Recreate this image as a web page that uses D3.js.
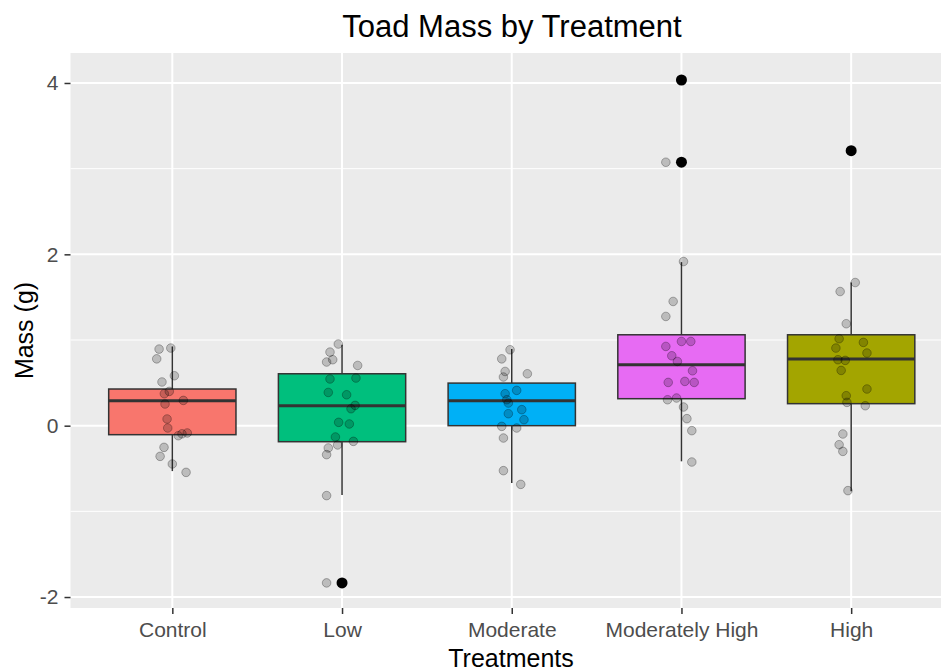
<!DOCTYPE html>
<html>
<head>
<meta charset="utf-8">
<script src="https://cdn.jsdelivr.net/npm/d3@7"></script>
<style>
    html, body { margin: 0; padding: 0; background: #ffffff; }
    svg { display: block; font-family: "Liberation Sans", Arial, sans-serif; }
</style>
</head>
<body>
<div id="chart"></div>
<script>
// Catégories et couleurs (ordre alphabétique des niveaux dans ggplot)
const treatments = ['Control', 'Low', 'Moderate', 'Moderately High', 'High'];
const fillColors = ['#F8766D', '#00BF7D', '#00B0F6', '#E76BF3', '#A3A500'];

// Statistiques des boîtes
const q1 = [-0.105, -0.187, 0.0, 0.315, 0.257];
const medians = [0.29, 0.233, 0.29, 0.711, 0.778];
const q3 = [0.428, 0.606, 0.497, 1.061, 1.061];
const whiskerLow = [-0.53, -0.81, -0.669, -0.416, -0.766];
const whiskerHigh = [0.925, 0.945, 0.894, 1.909, 1.671];
const outliers = [[], [-1.835], [], [3.075, 4.035], [3.21]];

// Points bruités (masse en g, décalage horizontal en unités de catégorie)
const controlMass = [0.906, 0.894, 0.78, 0.583, 0.51, 0.40, 0.373, 0.295, 0.253, 0.078, -0.027, -0.117, -0.095, -0.085, -0.253, -0.358, -0.447, -0.545];
const controlJitter = [-0.009, -0.078, -0.092, 0.012, -0.061, -0.018, -0.047, 0.065, -0.043, -0.031, -0.027, 0.035, 0.057, 0.088, -0.049, -0.072, 0, 0.081];
const lowMass = [0.953, 0.859, 0.77, 0.743, 0.703, 0.545, 0.556, 0.388, 0.361, 0.237, 0.198, 0.039, 0.02, -0.132, -0.183, -0.225, -0.26, -0.338, -0.816, -1.835];
const lowJitter = [-0.022, -0.071, -0.055, -0.091, 0.092, -0.071, 0.082, -0.081, 0.027, 0.077, 0.053, -0.02, 0.043, -0.039, 0.067, -0.026, -0.081, -0.091, -0.091, -0.091];
const moderateMass = [0.886, 0.78, 0.633, 0.606, 0.568, 0.412, 0.373, 0.303, 0.264, 0.187, 0.14, 0.07, -0.008, -0.027, -0.144, -0.525, -0.685];
const moderateJitter = [-0.01, -0.059, -0.039, 0.092, -0.049, 0.029, -0.039, -0.029, -0.02, 0.059, -0.02, 0.072, -0.059, 0.029, -0.049, -0.049, 0.053];
const modHighMass = [3.075, 1.916, 1.45, 1.275, 0.983, 0.983, 0.925, 0.816, 0.75, 0.641, 0.505, 0.517, 0.505, 0.303, 0.323, 0.218, 0.082, -0.058, -0.424];
const modHighJitter = [-0.092, 0.012, -0.049, -0.092, 0, 0.055, -0.092, -0.057, -0.024, 0.065, -0.078, 0.02, 0.075, -0.082, -0.029, 0.012, 0.032, 0.061, 0.061];
const highMass = [1.671, 1.566, 1.19, 1.015, 0.972, 0.906, 0.848, 0.77, 0.762, 0.645, 0.428, 0.35, 0.272, 0.233, -0.097, -0.222, -0.3, -0.758];
const highJitter = [0.024, -0.065, -0.029, -0.071, 0.072, -0.09, 0.093, -0.078, -0.035, -0.059, 0.093, -0.029, -0.025, 0.083, -0.049, -0.071, -0.049, -0.019];

const massByGroup = [controlMass, lowMass, moderateMass, modHighMass, highMass];
const jitterByGroup = [controlJitter, lowJitter, moderateJitter, modHighJitter, highJitter];

// Graduations
const yMajorTicks = [-2, 0, 2, 4];
const yMinorTicks = [-1, 1, 3];
const yDomain = [-2.128, 4.35];

// Dimensions
const WIDTH = 941;
const HEIGHT = 671;
// le panneau dépasse à droite : l'image d'origine est rognée
const PANEL = { left: 70.5, right: 953, top: 53, bottom: 608 };

function renderChart() {
    const svg = d3.select('#chart').append('svg')
        .attr('width', WIDTH)
        .attr('height', HEIGHT);

    const x = d3.scalePoint()
        .domain(treatments)
        .range([PANEL.left, PANEL.right])
        .padding(0.6);

    const y = d3.scaleLinear()
        .domain(yDomain)
        .range([PANEL.bottom, PANEL.top]);

    const boxWidth = x.step() * 0.75;

    // Fond du panneau
    svg.append('rect')
        .attr('x', PANEL.left)
        .attr('y', PANEL.top)
        .attr('width', PANEL.right - PANEL.left)
        .attr('height', PANEL.bottom - PANEL.top)
        .attr('fill', '#EBEBEB');

    // Grille secondaire
    svg.append('g')
        .selectAll('line')
        .data(yMinorTicks)
        .join('line')
        .attr('x1', PANEL.left)
        .attr('x2', PANEL.right)
        .attr('y1', d => y(d))
        .attr('y2', d => y(d))
        .attr('stroke', '#ffffff')
        .attr('stroke-width', 1);

    // Grille principale
    svg.append('g')
        .selectAll('line')
        .data(yMajorTicks)
        .join('line')
        .attr('x1', PANEL.left)
        .attr('x2', PANEL.right)
        .attr('y1', d => y(d))
        .attr('y2', d => y(d))
        .attr('stroke', '#ffffff')
        .attr('stroke-width', 2);

    svg.append('g')
        .selectAll('line')
        .data(treatments)
        .join('line')
        .attr('x1', d => x(d))
        .attr('x2', d => x(d))
        .attr('y1', PANEL.top)
        .attr('y2', PANEL.bottom)
        .attr('stroke', '#ffffff')
        .attr('stroke-width', 2);

    // Boîtes à moustaches
    const boxes = svg.append('g')
        .selectAll('g')
        .data(treatments.map((t, i) => ({ t, i })))
        .join('g');

    boxes.append('line')
        .attr('x1', d => x(d.t))
        .attr('x2', d => x(d.t))
        .attr('y1', d => y(q3[d.i]))
        .attr('y2', d => y(whiskerHigh[d.i]))
        .attr('stroke', '#333333')
        .attr('stroke-width', 1.5);

    boxes.append('line')
        .attr('x1', d => x(d.t))
        .attr('x2', d => x(d.t))
        .attr('y1', d => y(q1[d.i]))
        .attr('y2', d => y(whiskerLow[d.i]))
        .attr('stroke', '#333333')
        .attr('stroke-width', 1.5);

    boxes.append('rect')
        .attr('x', d => x(d.t) - boxWidth / 2)
        .attr('y', d => y(q3[d.i]))
        .attr('width', boxWidth)
        .attr('height', d => y(q1[d.i]) - y(q3[d.i]))
        .attr('fill', d => fillColors[d.i])
        .attr('stroke', '#333333')
        .attr('stroke-width', 1.5);

    boxes.append('line')
        .attr('x1', d => x(d.t) - boxWidth / 2)
        .attr('x2', d => x(d.t) + boxWidth / 2)
        .attr('y1', d => y(medians[d.i]))
        .attr('y2', d => y(medians[d.i]))
        .attr('stroke', '#333333')
        .attr('stroke-width', 3);

    // Valeurs aberrantes
    const outlierData = [];
    outliers.forEach((vals, i) => vals.forEach(v => outlierData.push({ t: treatments[i], v })));

    svg.append('g')
        .selectAll('circle')
        .data(outlierData)
        .join('circle')
        .attr('cx', d => x(d.t))
        .attr('cy', d => y(d.v))
        .attr('r', 5.5)
        .attr('fill', '#000000');

    // Points bruités
    const jitterData = [];
    massByGroup.forEach((vals, i) => {
        vals.forEach((v, k) => jitterData.push({ t: treatments[i], v, dx: jitterByGroup[i][k] }));
    });

    svg.append('g')
        .selectAll('circle')
        .data(jitterData)
        .join('circle')
        .attr('cx', d => x(d.t) + d.dx * x.step())
        .attr('cy', d => y(d.v))
        .attr('r', 4.3)
        .attr('fill', '#000000')
        .attr('fill-opacity', 0.2)
        .attr('stroke', '#000000')
        .attr('stroke-opacity', 0.28)
        .attr('stroke-width', 1);

    // Axe X
    const xAxis = d3.axisBottom(x).tickSize(6).tickPadding(8);
    const gx = svg.append('g')
        .attr('transform', `translate(0,${PANEL.bottom})`)
        .call(xAxis);
    gx.select('.domain').remove();
    gx.selectAll('line').attr('stroke', '#333333').attr('stroke-width', 1.5);
    gx.selectAll('text')
        .attr('fill', '#4D4D4D')
        .attr('font-size', '21px')
        .attr('font-family', '"Liberation Sans", Arial, sans-serif');

    // Axe Y (tiret simple comme dans l'original)
    const yAxis = d3.axisLeft(y)
        .tickValues(yMajorTicks)
        .tickFormat(d => String(d))
        .tickSize(6)
        .tickPadding(6);
    const gy = svg.append('g')
        .attr('transform', `translate(${PANEL.left},0)`)
        .call(yAxis);
    gy.select('.domain').remove();
    gy.selectAll('line').attr('stroke', '#333333').attr('stroke-width', 1.5);
    gy.selectAll('text')
        .attr('fill', '#4D4D4D')
        .attr('font-size', '21px')
        .attr('font-family', '"Liberation Sans", Arial, sans-serif');

    // Titres
    svg.append('text')
        .attr('x', 512)
        .attr('y', 37)
        .attr('text-anchor', 'middle')
        .attr('font-size', '31px')
        .attr('fill', '#000000')
        .text('Toad Mass by Treatment');

    svg.append('text')
        .attr('x', 511)
        .attr('y', 667)
        .attr('text-anchor', 'middle')
        .attr('font-size', '25px')
        .attr('fill', '#000000')
        .text('Treatments');

    svg.append('text')
        .attr('transform', 'rotate(-90)')
        .attr('x', -(PANEL.top + PANEL.bottom) / 2)
        .attr('y', 33)
        .attr('text-anchor', 'middle')
        .attr('font-size', '25px')
        .attr('fill', '#000000')
        .text('Mass (g)');
}

renderChart();
</script>
</body>
</html>
